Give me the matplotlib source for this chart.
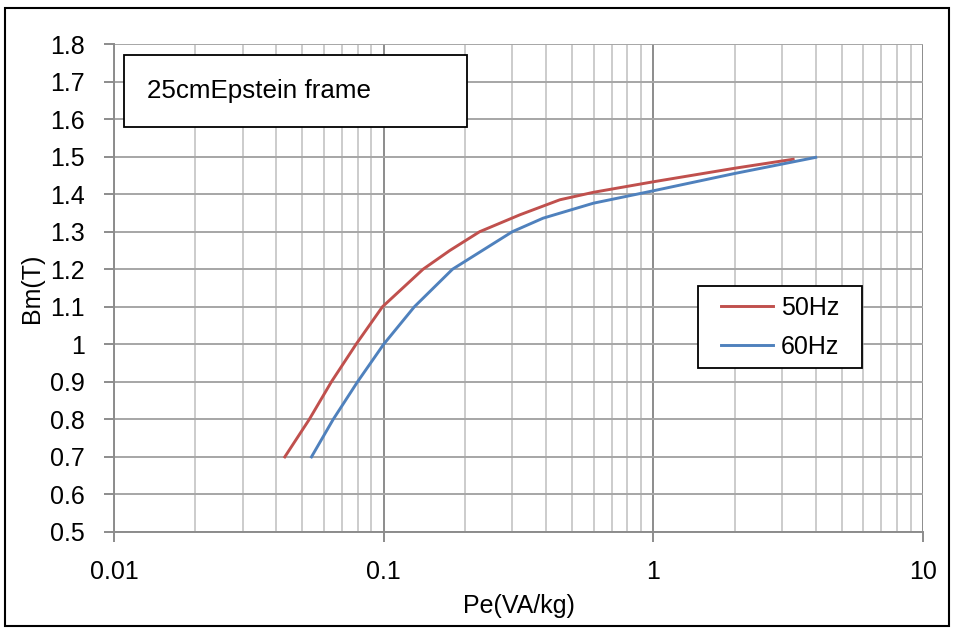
## Import necessary libraries
import matplotlib
matplotlib.use('Agg')
import matplotlib.pyplot as plt
from matplotlib.patches import Rectangle
from matplotlib.ticker import FixedLocator, FuncFormatter, LogLocator, NullFormatter

plt.rcParams['font.family'] = ['Liberation Sans', 'DejaVu Sans']

## Data
pe_50 = [0.043, 0.053, 0.064, 0.079, 0.099, 0.14, 0.176, 0.227, 0.32, 0.45, 0.6, 1.0, 2.0, 3.3]
bm_50 = [0.70, 0.80, 0.90, 1.00, 1.10, 1.20, 1.25, 1.30, 1.345, 1.385, 1.405, 1.433, 1.469, 1.493]
pe_60 = [0.054, 0.065, 0.08, 0.1, 0.13, 0.18, 0.3, 0.39, 0.6, 1.0, 2.0, 4.0]
bm_60 = [0.70, 0.80, 0.90, 1.00, 1.10, 1.20, 1.30, 1.336, 1.376, 1.409, 1.455, 1.498]
y_ticks = [0.5, 0.6, 0.7, 0.8, 0.9, 1.0, 1.1, 1.2, 1.3, 1.4, 1.5, 1.6, 1.7, 1.8]
x_ticks = [0.01, 0.1, 1, 10]
x_labels = ['0.01', '0.1', '1', '10']

fig = plt.figure(figsize=(9.56, 6.28), dpi=100)
ax = fig.add_axes([0.1192, 0.1529, 0.8463, 0.777])

ax.plot(pe_50, bm_50, color='#C0504D', lw=2.1, label='50Hz', zorder=3)
ax.plot(pe_60, bm_60, color='#4F81BD', lw=2.1, label='60Hz', zorder=3)

ax.set_xscale('log')
ax.set_xlim(0.01, 10)
ax.set_ylim(0.5, 1.8)
ax.xaxis.set_major_locator(FixedLocator(x_ticks))
ax.xaxis.set_major_formatter(FuncFormatter(lambda v, p: x_labels[x_ticks.index(v)] if v in x_ticks else ''))
ax.xaxis.set_minor_locator(LogLocator(base=10, subs=range(2, 10)))
ax.xaxis.set_minor_formatter(NullFormatter())
ax.yaxis.set_major_locator(FixedLocator(y_ticks))
ax.yaxis.set_major_formatter(FuncFormatter(lambda v, p: f'{v:g}'))

## grid
ax.grid(True, which='major', axis='x', color='#8c8c8c', lw=1.4)
ax.grid(True, which='minor', axis='x', color='#c4c4c4', lw=1.2)
ax.grid(True, which='major', axis='y', color='#a6a6a6', lw=1.4)
ax.set_axisbelow(True)

for s in ['top', 'right']:
    ax.spines[s].set_visible(False)
for s in ['left', 'bottom']:
    ax.spines[s].set_color('#8c8c8c')
    ax.spines[s].set_linewidth(1.4)

ax.tick_params(axis='both', which='major', labelsize=18, color='#8c8c8c', width=1.4, length=7)
ax.tick_params(axis='x', which='minor', length=0)
ax.tick_params(axis='x', pad=13)
ax.tick_params(axis='y', pad=14)

ax.set_xlabel('Pe(VA/kg)', fontsize=18, va='top')
ax.set_ylabel('Bm(T)', fontsize=18)
ax.xaxis.set_label_coords(0.5, -0.127)
ax.yaxis.set_label_coords(-0.086, 0.5)

## title box inside the plot
ax.add_patch(Rectangle((0.0124, 0.83), 0.424, 0.147, transform=ax.transAxes,
                       facecolor='white', edgecolor='black', lw=1.3, zorder=4))
ax.text(0.041, 0.904, '25cmEpstein frame', transform=ax.transAxes, fontsize=18.7,
        va='center', ha='left', zorder=5)

## legend with its own box
ax.add_patch(Rectangle((0.722, 0.336), 0.2026, 0.168, transform=ax.transAxes,
                       facecolor='white', edgecolor='black', lw=1.3, zorder=4))
leg = ax.legend(loc='center', bbox_to_anchor=(0.823, 0.42), borderaxespad=0,
                fontsize=18, frameon=False, handlelength=2.1, handletextpad=0.3,
                borderpad=0.2, labelspacing=0.6)
leg.set_zorder(5)

## outer frame
fig.patches.append(Rectangle((5/956, 1 - 626/628), 944/956, 618/628, transform=fig.transFigure,
                             fill=False, edgecolor='black', lw=1.5))

fig.savefig('out.png', dpi=100)
